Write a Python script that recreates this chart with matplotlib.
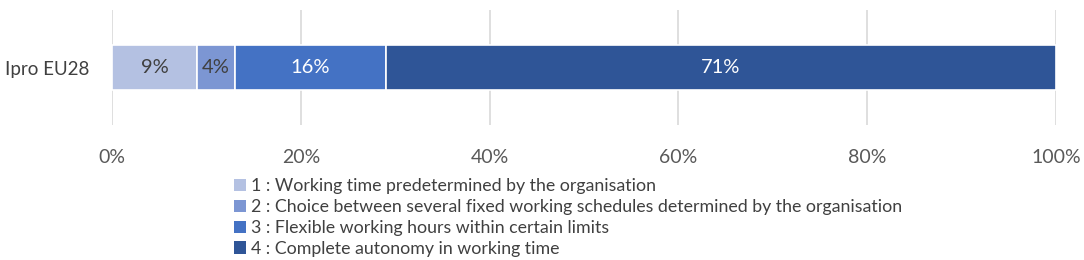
import matplotlib
matplotlib.use("Agg")
import matplotlib.pyplot as plt
from matplotlib.patches import Patch

plt.rcParams['font.family'] = ['Lato', 'DejaVu Sans']

category = ["Ipro EU28"]
values = [9, 4, 16, 71]
series_labels = [
    "1 : Working time predetermined by the organisation",
    "2 : Choice between several fixed working schedules determined by the organisation",
    "3 : Flexible working hours within certain limits",
    "4 : Complete autonomy in working time",
]
tick_values = [0, 20, 40, 60, 80, 100]
tick_labels = ["0%", "20%", "40%", "60%", "80%", "100%"]

colors = ["#b4c1e2", "#7c96d3", "#4472c4", "#2f5597"]
text_colors = ["#404040", "#404040", "white", "white"]

fig = plt.figure(figsize=(10.84, 2.6), dpi=100)
ax = fig.add_axes([112/1084, 1-125/260, (1056-112)/1084, 115/260])

left = 0
for v, c, tc in zip(values, colors, text_colors):
    ax.barh(0, v, left=left, height=0.8, color=c, edgecolor="white", linewidth=1.2, zorder=3)
    ax.text(left + v/2, 0, f"{v}%", ha="center", va="center", color=tc, fontsize=14.5, zorder=4)
    left += v

ax.set_xlim(0, 100)
ax.set_ylim(-1.022, 1.022)
ax.set_xticks(tick_values)
ax.set_xticklabels([])
for t, lab in zip(tick_values, tick_labels):
    ax.text(t, -1.6, lab, ha="center", va="center", fontsize=14, color="#595959",
            transform=ax.transData, clip_on=False)
ax.set_yticks([0])
ax.set_yticklabels(category, fontsize=13.5, color="#404040")
ax.tick_params(axis="both", length=0)
ax.tick_params(axis="y", pad=16)
ax.grid(axis="x", color="#d9d9d9", linewidth=1.2, zorder=0)
for s in ax.spines.values():
    s.set_visible(False)

handles = [Patch(facecolor=c, edgecolor="none") for c in colors]
fig.legend(handles, series_labels, loc="upper left", bbox_to_anchor=(234/1084, 1-178/260),
           frameon=False, fontsize=12.8, handlelength=0.7, handleheight=0.7,
           handletextpad=0.25, labelspacing=0.28, borderpad=0, borderaxespad=0,
           labelcolor="#404040")

fig.savefig("out.png", dpi=100)
